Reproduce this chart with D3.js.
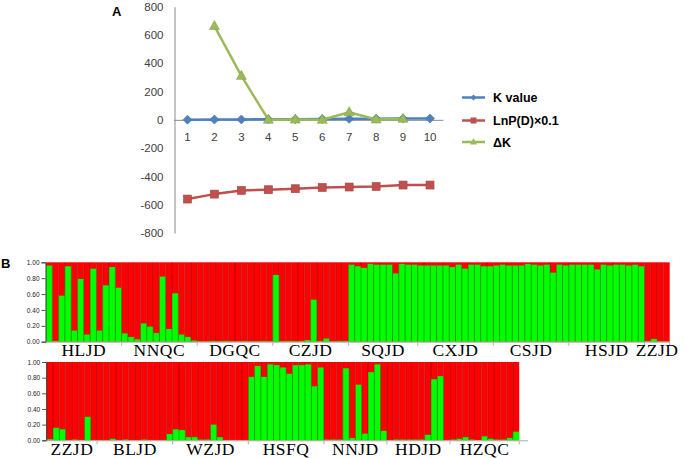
<!DOCTYPE html>
<html><head><meta charset="utf-8">
<script src="https://cdn.jsdelivr.net/npm/d3@7"></script>
<style>body{margin:0;background:#fff} svg{display:block}</style>
</head><body>
<svg id="c" width="685" height="458"></svg>
<script>
// ---------- Panel A data ----------
const kCategories = [1,2,3,4,5,6,7,8,9,10];
const kValueSeries = [1,2,3,4,5,6,7,8,9,10];
const lnPDSeries = [-560,-525,-499,-494,-487,-478,-475,-471,-461,-461];
const deltaKSeries = [null,663,311,1,2,1,54,3,8,null];
const yTicksA = [-800,-600,-400,-200,0,200,400,600,800];
const seriesNames = ["K value","LnP(D)×0.1","ΔK"];
const seriesColors = ["#4F81BD","#C0504D","#9BBB59"];

// ---------- Panel B data ----------
const row1Groups = ["HLJD","NNQC","DGQC","CZJD","SQJD","CXJD","CSJD","HSJD","ZZJD"];
const row1Sizes  = [12,12,12,12,11,12,12,12,4];
const row1Green = [
  0.96,0.01,0.58,0.95,0.14,0.79,0.09,0.92,0.14,0.71,0.94,0.68,
  0.105,0.06,0.03,0.23,0.19,0.11,0.82,0.16,0.61,0.09,0.06,0.015,
  0.005,0.005,0.01,0.005,0.01,0.005,0.005,0.01,0.005,0.005,0.01,0.005,
  0.84,0.005,0.01,0.005,0.01,0.02,0.53,0.01,0.04,0.005,0.01,0.01,
  0.97,0.95,0.93,0.98,0.97,0.97,0.97,0.86,0.98,0.97,0.97,
  0.96,0.96,0.96,0.96,0.96,0.94,0.97,0.92,0.97,0.97,0.95,0.95,
  0.96,0.97,0.96,0.96,0.96,0.98,0.97,0.96,0.97,0.87,0.97,0.96,
  0.97,0.97,0.97,0.97,0.91,0.97,0.96,0.97,0.97,0.96,0.97,0.95,
  0.01,0.035,0.005,0.0
];
const row2Groups = ["ZZJD","BLJD","WZJD","HSFQ","NNJD","HDJD","HZQC"];
const row2Sizes  = [8,12,12,12,10,10,11];
const row2Green = [
  0.015,0.16,0.14,0.005,0.01,0.005,0.30,0.005,
  0.005,0.005,0.02,0.005,0.01,0.005,0.005,0.01,0.005,0.005,0.005,0.08,
  0.14,0.13,0.04,0.04,0.01,0.01,0.20,0.04,0.005,0.005,0.005,0.005,
  0.81,0.95,0.81,0.97,0.96,0.93,0.85,0.96,0.96,0.97,0.69,0.93,
  0.01,0.01,0.01,0.92,0.03,0.71,0.085,0.87,0.97,0.12,
  0.005,0.01,0.01,0.01,0.01,0.01,0.07,0.78,0.82,0.005,
  0.01,0.02,0.04,0.01,0.0,0.05,0.02,0.01,0.01,0.03,0.11
];
const barTickValues = [0,0.2,0.4,0.6,0.8,1.0];

const svg = d3.select("#c");
const W = 685;

// ================= Panel A =================
const xA = d3.scaleBand().domain(kCategories).range([174, 443.5]);
const yA = d3.scaleLinear().domain([-800, 800]).range([233, 6.7]);
const cx = k => xA(k) + xA.bandwidth()/2;

svg.append("text").attr("x",112).attr("y",16).text("A")
  .attr("font-family","Liberation Sans, Arial, sans-serif").attr("font-weight","bold").attr("font-size",13);

const gyA = svg.append("g").attr("transform","translate(174.5,0)")
  .call(d3.axisLeft(yA).tickValues(yTicksA).tickFormat(d=>String(d)).tickSize(0).tickPadding(11));
gyA.select(".domain").attr("stroke","#8c8c8c");
gyA.selectAll("text").attr("font-family","Liberation Sans, Arial, sans-serif").attr("font-size",11.5).attr("fill","#404040");

svg.append("line").attr("x1",174).attr("x2",443.5).attr("y1",yA(0)+0.5).attr("y2",yA(0)+0.5)
  .attr("stroke","#8c8c8c");
svg.append("g").selectAll("text").data(kCategories).join("text")
  .attr("x",d=>cx(d)).attr("y",yA(0)+21).attr("text-anchor","middle")
  .attr("font-family","Liberation Sans, Arial, sans-serif").attr("font-size",11.5).attr("fill","#404040")
  .text(d=>d);

const lineGen = d3.line().defined(d=>d.v!=null).x(d=>cx(d.k)).y(d=>yA(d.v));
const seriesData = [kValueSeries, lnPDSeries, deltaKSeries].map(arr => arr.map((v,i)=>({k:kCategories[i], v})));

function marker(g, type, x, y, color){
  if(type===0){
    g.append("path").attr("d",`M${x},${y-4.5}L${x+4.5},${y}L${x},${y+4.5}L${x-4.5},${y}Z`)
      .attr("fill",color).attr("stroke",d3.color(color).darker(0.4)).attr("stroke-width",0.6);
  } else if(type===1){
    g.append("rect").attr("x",x-4).attr("y",y-4).attr("width",8).attr("height",8)
      .attr("fill",color).attr("stroke",d3.color(color).darker(0.4)).attr("stroke-width",0.6);
  } else {
    g.append("path").attr("d",`M${x},${y-5.5}L${x+5},${y+3.5}L${x-5},${y+3.5}Z`)
      .attr("fill",color).attr("stroke",d3.color(color).darker(0.4)).attr("stroke-width",0.6);
  }
}
[1,0,2].forEach(si=>{
  const g = svg.append("g");
  g.append("path").datum(seriesData[si]).attr("d",lineGen)
    .attr("fill","none").attr("stroke",seriesColors[si]).attr("stroke-width",2.5).attr("stroke-linejoin","round");
  seriesData[si].filter(d=>d.v!=null).forEach(d=>marker(g, si, cx(d.k), yA(d.v), seriesColors[si]));
});

// legend
const legRows = [97.5, 120.5, 142];
seriesNames.forEach((name,i)=>{
  const g = svg.append("g");
  g.append("line").attr("x1",462).attr("x2",485).attr("y1",legRows[i]).attr("y2",legRows[i])
    .attr("stroke",seriesColors[i]).attr("stroke-width",2.5);
  if(i===0) g.append("path").attr("d",`M473.5,${legRows[i]-3}L476.5,${legRows[i]}L473.5,${legRows[i]+3}L470.5,${legRows[i]}Z`).attr("fill",seriesColors[i]);
  else if(i===1) g.append("rect").attr("x",470.5).attr("y",legRows[i]-3).attr("width",6).attr("height",6).attr("fill",seriesColors[i]);
  else g.append("path").attr("d",`M473.5,${legRows[i]-4}L477,${legRows[i]+2.5}L470,${legRows[i]+2.5}Z`).attr("fill",seriesColors[i]);
  g.append("text").attr("x",493).attr("y",legRows[i]+4.5).text(name)
    .attr("font-family","Liberation Sans, Arial, sans-serif").attr("font-weight","bold").attr("font-size",12.5).attr("fill","#000");
});

// ================= Panel B =================
svg.append("text").attr("x",1).attr("y",268).text("B")
  .attr("font-family","Liberation Sans, Arial, sans-serif").attr("font-weight","bold").attr("font-size",13);

function drawRow(green, groups, sizes, x0, x1, yBot, yTop, axisEnd, labelY){
  const idx = d3.range(green.length);
  const x = d3.scaleBand().domain(idx).range([x0, x1]).padding(0);
  const y = d3.scaleLinear().domain([0,1]).range([yBot, yTop]);
  const g = svg.append("g");
  g.selectAll(".r").data(idx).join("rect")
    .attr("x",d=>x(d)).attr("width",x.bandwidth()).attr("y",y(1)).attr("height",y(0)-y(1))
    .attr("fill","#ff0000");
  g.selectAll(".gr").data(idx).join("rect")
    .attr("x",d=>x(d)).attr("width",x.bandwidth()).attr("y",d=>y(green[d])).attr("height",d=>y(0)-y(green[d]))
    .attr("fill","#00ff00");
  g.selectAll(".sep").data(idx.slice(1)).join("line")
    .attr("x1",d=>x(d)).attr("x2",d=>x(d)).attr("y1",y(1)).attr("y2",y(0))
    .attr("stroke","#000").attr("stroke-opacity",0.4).attr("stroke-width",0.7);
  const ga = svg.append("g").attr("transform",`translate(${x0-0.5},0)`)
    .call(d3.axisLeft(y).tickValues(barTickValues).tickFormat(d3.format(".2f")).tickSize(4).tickPadding(2));
  ga.select(".domain").attr("stroke","#333");
  ga.selectAll(".tick line").attr("stroke","#555");
  ga.selectAll("text").attr("font-family","Liberation Sans, Arial, sans-serif").attr("font-size",6.5).attr("fill","#222");
  svg.append("line").attr("x1",x0).attr("x2",axisEnd).attr("y1",y(0)+0.5).attr("y2",y(0)+0.5)
    .attr("stroke","#aaa").attr("stroke-width",1);
  let start = 0;
  groups.forEach((name,i)=>{
    const end = start + sizes[i];
    const bx = end < green.length ? x(end) : x1;
    svg.append("line").attr("x1",bx).attr("x2",bx).attr("y1",y(0)+1).attr("y2",y(0)+4)
      .attr("stroke","#aaa");
    const c = (x(start) + bx)/2;
    const t = svg.append("text").attr("x",c).attr("y",labelY).attr("text-anchor","middle")
      .attr("font-family","Liberation Serif, Times New Roman, serif").attr("font-size",17.5)
      .attr("letter-spacing",0.5).attr("fill","#000").text(name);
    const w = t.node().getComputedTextLength();
    if(c + w/2 > W-2) t.attr("x", W-2-w/2);
    start = end;
  });
}
drawRow(row1Green, row1Groups, row1Sizes, 46, 669.7, 341.7, 262.3, 670, 356);
drawRow(row2Green, row2Groups, row2Sizes, 46.7, 519.2, 440.3, 362, 528, 455);
</script>
</body></html>
